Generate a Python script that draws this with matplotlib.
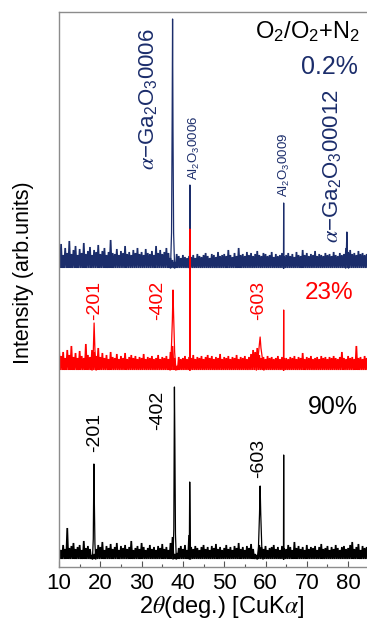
import numpy as np
import matplotlib
matplotlib.use('Agg')
import matplotlib.pyplot as plt

plt.rcParams['font.family'] = ['Liberation Sans', 'DejaVu Sans']
plt.rcParams['mathtext.fontset'] = 'stix'

# ---------------- data ----------------
# 2theta grid of the background noise (deg), 10 .. 85 step 0.5
grid_start, grid_stop, grid_step = 10.0, 85.0, 0.5

# background noise heights above each trace floor (arb. units)
noise_black = [12, 9, 14, 10, 31, 11, 13, 16, 10, 12,
               14, 9, 18, 11, 13, 10, 4, 5, 10, 14,
               12, 17, 9, 13, 11, 15, 10, 12, 16, 9,
               13, 11, 14, 10, 12, 18, 9, 11, 13, 10,
               16, 12, 9, 11, 14, 10, 12, 9, 13, 11,
               15, 10, 12, 9, 16, 22, 5, 6, 11, 13,
               10, 14, 9, 24, 12, 10, 13, 11, 9, 12,
               14, 10, 12, 9, 13, 11, 15, 10, 12, 9,
               11, 14, 10, 12, 9, 13, 11, 16, 10, 12,
               9, 13, 11, 15, 10, 5, 4, 14, 12, 10,
               13, 9, 11, 12, 14, 10, 12, 9, 13, 11,
               10, 14, 12, 9, 17, 11, 13, 10, 12, 9,
               14, 10, 12, 11, 13, 9, 12, 15, 10, 11,
               13, 9, 12, 10, 14, 11, 9, 12, 13, 10,
               11, 14, 17, 10, 12, 15, 9, 13, 11, 12,
               10]
noise_red = [22, 14, 18, 12, 20, 15, 24, 13, 17, 12,
             19, 14, 12, 26, 15, 13, 20, 18, 14, 22,
             13, 17, 12, 15, 11, 18, 13, 12, 16, 11,
             14, 12, 17, 11, 13, 15, 12, 14, 11, 13,
             12, 16, 11, 13, 12, 14, 11, 12, 15, 11,
             13, 12, 14, 11, 18, 24, 12, 4, 13, 11,
             12, 14, 11, 13, 12, 15, 11, 13, 12, 14,
             11, 13, 15, 12, 14, 11, 13, 12, 16, 11,
             13, 12, 14, 11, 13, 12, 15, 11, 13, 12,
             14, 11, 13, 16, 20, 18, 22, 15, 12, 13,
             11, 14, 12, 13, 11, 12, 14, 11, 13, 12,
             12, 11, 13, 12, 14, 11, 13, 12, 17, 11,
             13, 12, 14, 11, 12, 13, 11, 14, 12, 13,
             11, 13, 12, 14, 12, 11, 13, 18, 12, 11,
             14, 12, 13, 11, 24, 12, 13, 11, 14, 12,
             13]
noise_navy = [16, 24, 13, 20, 15, 27, 14, 18, 22, 13,
              19, 15, 25, 14, 17, 21, 13, 18, 16, 23,
              14, 17, 20, 13, 16, 28, 15, 14, 19, 13,
              17, 15, 22, 14, 16, 13, 18, 15, 20, 14,
              16, 13, 19, 15, 14, 17, 13, 22, 15, 18,
              14, 16, 20, 15, 10, 8, 6, 14, 12, 10,
              13, 11, 10, 12, 11, 13, 10, 14, 12, 11,
              13, 15, 12, 10, 14, 13, 11, 16, 12, 13,
              14, 12, 18, 13, 11, 15, 12, 20, 13, 14,
              12, 16, 13, 15, 12, 14, 17, 13, 12, 15,
              14, 12, 13, 16, 11, 14, 12, 13, 15, 12,
              13, 15, 12, 14, 11, 16, 13, 12, 18, 13,
              15, 12, 14, 13, 17, 12, 14, 13, 12, 15,
              13, 14, 12, 16, 13, 12, 15, 13, 14, 20,
              16, 18, 14, 15, 13, 17, 14, 15, 13, 14,
              15]

# trace floors (vertical offsets of the stacked patterns)
floor_black, floor_red, floor_navy = 8, 197, 299

# Bragg peaks: 2theta points and heights above the floor
black_peaks_x = [[18.1, 18.3, 18.45, 18.55, 18.7, 18.9],
                 [37.6, 37.8, 37.95, 38.05, 38.2, 38.4],
                 [41.55, 41.65, 41.75, 41.85],
                 [58.0, 58.3, 58.55, 58.7, 58.85, 59.1, 59.4],
                 [64.35, 64.4, 64.45]]
black_peaks_y = [[0, 20, 95, 60, 15, 0],
                 [0, 30, 172, 120, 25, 0],
                 [0, 77, 40, 0],
                 [0, 12, 45, 73, 45, 12, 0],
                 [0, 104, 0]]
red_peaks_x = [[18.0, 18.3, 18.5, 18.7, 19.0],
               [36.9, 37.2, 37.45, 37.6, 37.75, 38.0, 38.3],
               [41.65, 41.7, 41.75],
               [57.8, 58.2, 58.5, 58.7, 58.9, 59.3, 59.6],
               [64.35, 64.4, 64.45]]
red_peaks_y = [[0, 18, 47, 20, 0],
               [0, 20, 50, 80, 55, 18, 0],
               [0, 141, 0],
               [0, 12, 25, 33, 22, 10, 0],
               [0, 60, 0]]
navy_peaks_x = [[37.0, 37.25, 37.4, 37.5, 37.6, 37.75, 38.0],
                [41.6, 41.7, 41.8],
                [64.35, 64.4, 64.45],
                [79.4, 79.6, 79.7, 79.85, 80.1]]
navy_peaks_y = [[0, 35, 150, 249, 140, 35, 0],
                [0, 83, 0],
                [0, 65, 0],
                [0, 20, 36, 15, 0]]

x_ticks = [10, 20, 30, 40, 50, 60, 70, 80]
sample_labels = ['0.2%', '23%', '90%']
gas_label = r'O$\mathregular{_2}$/O$\mathregular{_2}$+N$\mathregular{_2}$'
red_hkl = ['-201', '-402', '-603']
red_hkl_x = [18.7, 34.0, 58.4]
black_hkl = ['-201', '-402', '-603']
black_hkl_x = [18.7, 34.0, 58.4]
black_hkl_y = [115, 137, 89]

NAVY = '#1b2d6b'
RED = '#ff0000'
BLACK = '#000000'

# ---------------- figure ----------------
fig = plt.figure(figsize=(3.67, 6.21), dpi=100)
W, H = 367.0, 621.0
px_per_deg = 4.13
ax = fig.add_axes([59 / W, 1 - 567 / H, 80 * px_per_deg / W, 555 / H])
ax.set_xlim(10, 90)
ax.set_ylim(0, 555)

grid = np.arange(grid_start, grid_stop + grid_step / 2, grid_step)


def draw_trace(noise, floor, peaks_x, peaks_y, color, lw=1.25):
    n = np.asarray(noise, dtype=float)
    xs = np.empty(2 * len(grid))
    ys = np.empty(2 * len(grid))
    xs[0::2] = grid
    xs[1::2] = grid + grid_step / 2
    ys[0::2] = floor + n
    ys[1::2] = floor
    ax.plot(xs, ys, color=color, lw=lw, solid_joinstyle='miter')
    for px, py in zip(peaks_x, peaks_y):
        ax.plot(px, floor + np.asarray(py, dtype=float), color=color, lw=0.9)


draw_trace(noise_navy, floor_navy, navy_peaks_x, navy_peaks_y, NAVY)
draw_trace(noise_red, floor_red, red_peaks_x, red_peaks_y, RED)
draw_trace(noise_black, floor_black, black_peaks_x, black_peaks_y, BLACK)

# spines / ticks
for s in ['left', 'top', 'bottom']:
    ax.spines[s].set_color('#8c8c8c')
    ax.spines[s].set_linewidth(1.0)
ax.spines['right'].set_visible(False)
ax.set_yticks([])
ax.set_xticks(x_ticks)
ax.set_xticks(np.array(x_ticks) + 5, minor=True)
ax.tick_params(axis='x', which='both', direction='in', color='#555555',
               labelsize=16, pad=4, top=False)
ax.tick_params(axis='x', which='major', length=4, width=0.8)
ax.tick_params(axis='x', which='minor', length=2.5, width=0.8)

# axis labels
fig.text(24 / W, 1 - 273 / H, 'Intensity (arb.units)', rotation=90,
         ha='center', va='center', fontsize=15.5)
fig.text(222 / W, 1 - 620.5 / H, r'2$\theta$(deg.) [CuK$\alpha$]',
         ha='center', va='bottom', fontsize=17)

# sample labels
ax.text(82.9, 535, gas_label, ha='right', va='center', fontsize=17, color=BLACK)
ax.text(82.4, 500, sample_labels[0], ha='right', va='center', fontsize=18, color=NAVY)
ax.text(81.2, 274, sample_labels[1], ha='right', va='center', fontsize=17.5, color=RED)
ax.text(82.4, 160, sample_labels[2], ha='right', va='center', fontsize=18, color=BLACK)

# navy peak annotations
ax.text(31.7, 397, r'$\alpha\mathregular{-Ga_2O_30006}$', rotation=90,
        ha='center', va='bottom', fontsize=16, color=NAVY)
ax.text(76.3, 324, r'$\alpha\mathregular{-Ga_2O_300012}$', rotation=90,
        ha='center', va='bottom', fontsize=16, color=NAVY)
ax.text(42.7, 387, r'Al$\mathregular{_2}$O$\mathregular{_3}$0006', rotation=90,
        ha='center', va='bottom', fontsize=9.5, color=NAVY)
ax.text(64.5, 370, r'Al$\mathregular{_2}$O$\mathregular{_3}$0009', rotation=90,
        ha='center', va='bottom', fontsize=9.5, color=NAVY)

# red hkl labels
for lab, x in zip(red_hkl, red_hkl_x):
    ax.text(x, 247, lab, rotation=90, ha='center', va='bottom',
            fontsize=14, color=RED)
# black hkl labels
for lab, x, y in zip(black_hkl, black_hkl_x, black_hkl_y):
    ax.text(x, y, lab, rotation=90, ha='center', va='bottom',
            fontsize=14, color=BLACK)

fig.savefig('out.png', dpi=100)
